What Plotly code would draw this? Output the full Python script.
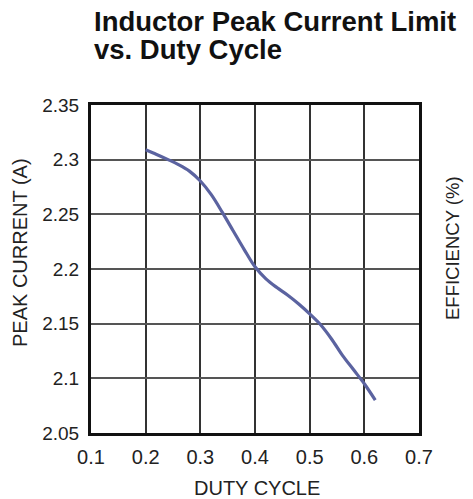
import plotly.graph_objects as go

duty_cycle = [0.20, 0.22, 0.24, 0.26, 0.28, 0.30, 0.32, 0.34, 0.36, 0.38, 0.40,
              0.42, 0.44, 0.46, 0.48, 0.50, 0.52, 0.54, 0.56, 0.58, 0.60, 0.62]
peak_current = [2.309, 2.3048, 2.3003, 2.2955, 2.2895, 2.2805, 2.268, 2.252, 2.235, 2.218, 2.202,
                2.191, 2.183, 2.176, 2.168, 2.159, 2.149, 2.136, 2.121, 2.108, 2.095, 2.080]
x_ticks = [0.1, 0.2, 0.3, 0.4, 0.5, 0.6, 0.7]
x_tick_labels = ["0.1", "0.2", "0.3", "0.4", "0.5", "0.6", "0.7"]
y_ticks = [2.05, 2.1, 2.15, 2.2, 2.25, 2.3, 2.35]
y_tick_labels = ["2.05", "2.1", "2.15", "2.2", "2.25", "2.3", "2.35"]

FONT = "Liberation Sans, Arial, sans-serif"
TXT = "#222222"

fig = go.Figure()
fig.add_trace(go.Scatter(
    x=duty_cycle, y=peak_current, mode="lines",
    line=dict(color="#5b63a0", width=3.2, shape="spline", smoothing=1.0),
    showlegend=False, hoverinfo="skip",
))

L, R, T, B = 91, 54, 105, 66
PW, PH = 473 - L - R, 499 - T - B


def px_x(px):
    return (px - L) / PW


def px_y(py):
    return (499 - B - py) / PH


fig.update_layout(
    width=473, height=499,
    margin=dict(l=L, r=R, t=T, b=B, pad=0),
    paper_bgcolor="white", plot_bgcolor="white",
    font=dict(family=FONT, color=TXT, size=20),
    xaxis=dict(
        range=[0.1, 0.7], tickvals=x_ticks, ticktext=x_tick_labels,
        showgrid=True, gridcolor="#333333", gridwidth=1.5,
        showline=True, linecolor="#111111", linewidth=3, mirror=True,
        ticks="", zeroline=False, ticklabelstandoff=4,
        tickfont=dict(size=20, family=FONT, color=TXT),
    ),
    yaxis=dict(
        range=[2.05, 2.35], tickvals=y_ticks, ticktext=y_tick_labels,
        showgrid=True, gridcolor="#555555", gridwidth=1.5,
        showline=True, linecolor="#111111", linewidth=3, mirror=True,
        ticks="", zeroline=False, ticklabelstandoff=5,
        tickfont=dict(size=19, family=FONT, color=TXT),
    ),
    annotations=[
        dict(text="<b>Inductor Peak Current Limit</b>",
             xref="paper", yref="paper", x=px_x(92), y=px_y(21),
             xanchor="left", yanchor="middle", align="left", showarrow=False,
             font=dict(size=27.5, family=FONT, color="#111111")),
        dict(text="<b>vs. Duty Cycle</b>",
             xref="paper", yref="paper", x=px_x(92), y=px_y(49),
             xanchor="left", yanchor="middle", align="left", showarrow=False,
             font=dict(size=27.5, family=FONT, color="#111111")),
        dict(text="PEAK CURRENT (A)", textangle=-90,
             xref="paper", yref="paper", x=px_x(20), y=px_y(253),
             xanchor="center", yanchor="middle", showarrow=False,
             font=dict(size=20, family=FONT, color=TXT)),
        dict(text="DUTY CYCLE",
             xref="paper", yref="paper", x=px_x(257), y=px_y(488),
             xanchor="center", yanchor="middle", showarrow=False,
             font=dict(size=20, family=FONT, color=TXT)),
        dict(text="EFFICIENCY (%)", textangle=-90,
             xref="paper", yref="paper", x=px_x(452), y=px_y(248),
             xanchor="center", yanchor="middle", showarrow=False,
             font=dict(size=18.5, family=FONT, color=TXT)),
    ],
)

fig.write_html("out.html", config={"displayModeBar": False},
               post_script="document.body.style.margin='0';")
